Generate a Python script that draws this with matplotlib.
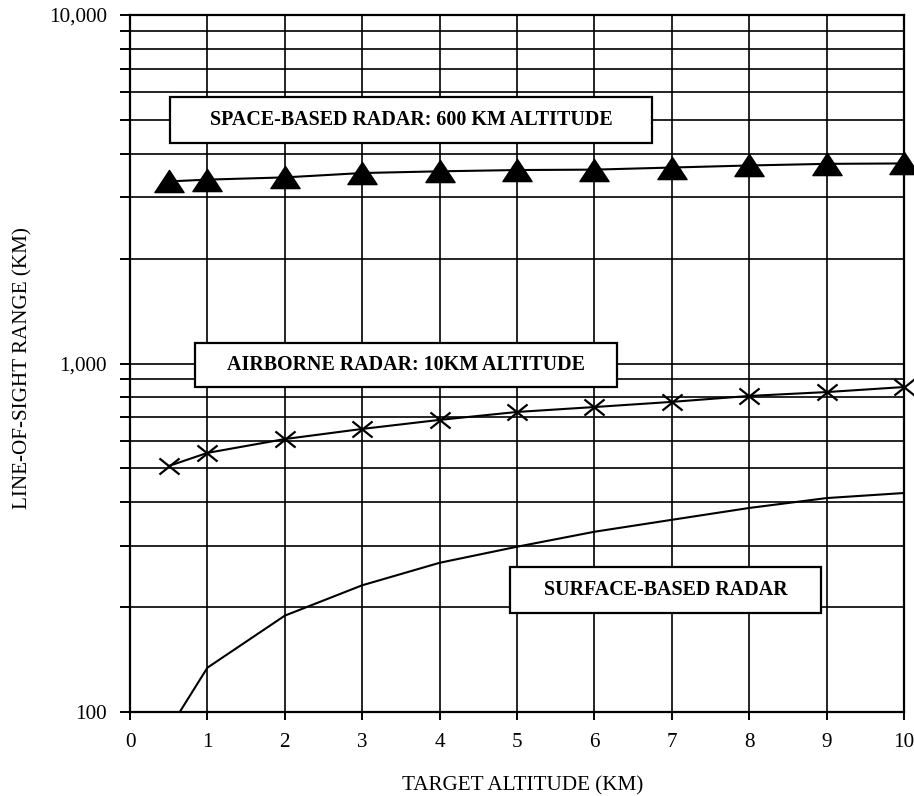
import matplotlib
matplotlib.use("Agg")
import matplotlib.pyplot as plt
from matplotlib.path import Path
from matplotlib.patches import Rectangle
from matplotlib.ticker import FixedLocator, LogLocator, NullFormatter, FuncFormatter

# ---- data ----
target_alt = [0.5, 1, 2, 3, 4, 5, 6, 7, 8, 9, 10]
space_range = [3330, 3370, 3420, 3520, 3560, 3590, 3600, 3650, 3700, 3740, 3750]
airborne_range = [508, 554, 607, 649, 689, 726, 750, 776, 807, 828, 856]
surface_range = [89, 134, 189, 231, 268, 298, 329, 356, 385, 411, 425]

x_ticks = [0, 1, 2, 3, 4, 5, 6, 7, 8, 9, 10]
y_major = [100, 1000, 10000]
y_labels = ["100", "1,000", "10,000"]

label_space = "SPACE-BASED RADAR: 600 KM ALTITUDE"
label_air = "AIRBORNE RADAR: 10KM ALTITUDE"
label_surf = "SURFACE-BASED RADAR"
xlabel = "TARGET ALTITUDE (KM)"
ylabel = "LINE-OF-SIGHT RANGE (KM)"

plt.rcParams['font.family'] = ['Liberation Serif', 'DejaVu Serif']

W, H = 914, 796
fig = plt.figure(figsize=(W / 100, H / 100), dpi=100)
L, R, T, B = 130, 904, 15, 712
ax = fig.add_axes([L / W, 1 - B / H, (R - L) / W, (B - T) / H])

ax.set_yscale('log')
ax.set_xlim(0, 10)
ax.set_ylim(100, 10000)

# ticks
ax.xaxis.set_major_locator(FixedLocator(x_ticks))
ax.yaxis.set_major_locator(FixedLocator(y_major))
ax.yaxis.set_major_formatter(FuncFormatter(lambda v, p: y_labels[y_major.index(v)] if v in y_major else ""))
ax.yaxis.set_minor_locator(LogLocator(base=10, subs=[2, 3, 4, 5, 6, 7, 8, 9]))
ax.yaxis.set_minor_formatter(NullFormatter())
ax.tick_params(axis='y', which='both', direction='out', length=7.2, width=1.4,
               labelsize=15.2, pad=9.5, colors='black')
ax.tick_params(axis='x', which='both', direction='out', length=6, width=1.4,
               labelsize=15.2, pad=9, colors='black')

# grid
ax.grid(True, which='major', axis='both', color='black', linewidth=1.2)
ax.grid(True, which='minor', axis='y', color='black', linewidth=1.2)
ax.set_axisbelow(True)
for s in ax.spines.values():
    s.set_linewidth(1.6)
    s.set_color('black')

# markers
tri = Path([(-1, -0.76), (1, -0.76), (0, 0.76), (-1, -0.76)],
           [Path.MOVETO, Path.LINETO, Path.LINETO, Path.CLOSEPOLY])
cross = Path([(-1, -0.8), (1, 0.8), (-1, 0.8), (1, -0.8)],
             [Path.MOVETO, Path.LINETO, Path.MOVETO, Path.LINETO])

ax.plot(target_alt, space_range, color='black', linewidth=1.5, marker=tri,
        markersize=21, markerfacecolor='black', markeredgecolor='black',
        clip_on=False, zorder=4)
ax.plot(target_alt, airborne_range, color='black', linewidth=1.5, marker=cross,
        markersize=14.5, markeredgewidth=1.6, markerfacecolor='none',
        markeredgecolor='black', clip_on=False, zorder=4)
ax.plot(target_alt, surface_range, color='black', linewidth=1.5, zorder=4)

# label boxes (pixel geometry -> axes fraction)
def box(x0, y0, x1, y1, text):
    ax_x0 = (x0 - L) / (R - L)
    ax_x1 = (x1 - L) / (R - L)
    ax_y0 = (B - y1) / (B - T)
    ax_y1 = (B - y0) / (B - T)
    ax.add_patch(Rectangle((ax_x0, ax_y0), ax_x1 - ax_x0, ax_y1 - ax_y0,
                           transform=ax.transAxes, facecolor='white',
                           edgecolor='black', linewidth=1.6, zorder=5))
    ax.text((ax_x0 + ax_x1) / 2, (ax_y0 + ax_y1) / 2, text, transform=ax.transAxes,
            ha='center', va='center', fontsize=14.4, fontweight='bold', zorder=6)

box(170, 97, 652, 143, label_space)
box(195, 343, 617, 387, label_air)
box(510, 567, 821, 613, label_surf)

fig.text(523 / W, 1 - 786 / H, xlabel, ha='center', va='center', fontsize=15.2)
fig.text(23 / W, 1 - 368 / H, ylabel, ha='center', va='center', rotation=90, fontsize=15.2)

fig.savefig("out.png", dpi=100)
